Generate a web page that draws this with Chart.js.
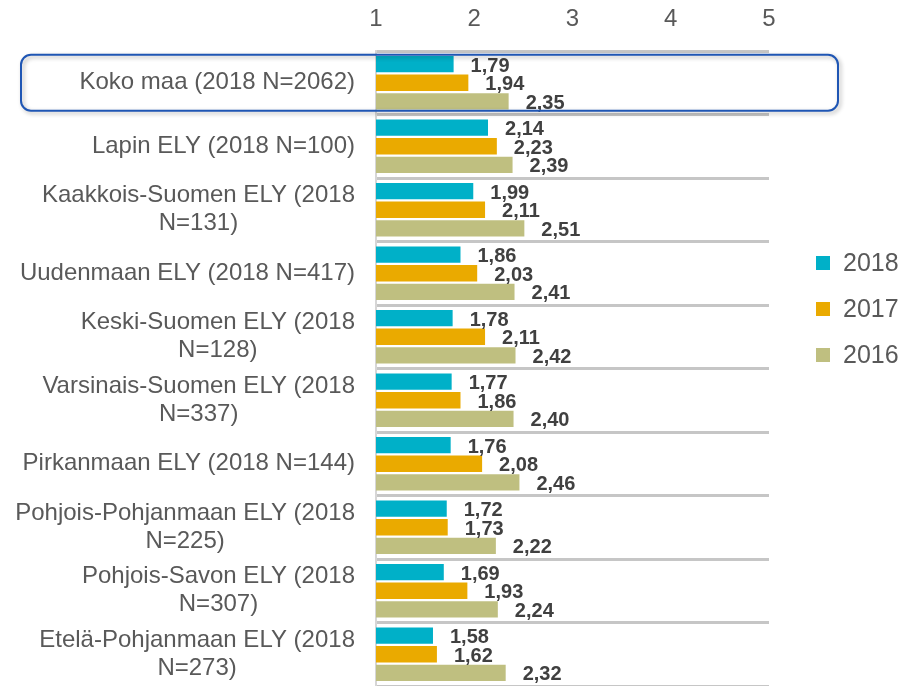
<!DOCTYPE html>
<html>
<head>
<meta charset="utf-8">
<script src="https://cdn.jsdelivr.net/npm/chart.js@4/dist/chart.umd.min.js"></script>
<style>
  html, body { margin: 0; padding: 0; background: #ffffff; }
  #wrap { width: 916px; height: 686px; position: relative; }
</style>
</head>
<body>
<div id="wrap"><canvas id="c" width="916" height="686"></canvas></div>
<script>
const categories = [
  ["Koko maa (2018 N=2062)"],
  ["Lapin ELY (2018 N=100)"],
  ["Kaakkois-Suomen ELY (2018", "N=131)"],
  ["Uudenmaan ELY (2018 N=417)"],
  ["Keski-Suomen ELY (2018", "N=128)"],
  ["Varsinais-Suomen ELY (2018", "N=337)"],
  ["Pirkanmaan ELY (2018 N=144)"],
  ["Pohjois-Pohjanmaan ELY (2018", "N=225)"],
  ["Pohjois-Savon ELY (2018", "N=307)"],
  ["Etelä-Pohjanmaan ELY (2018", "N=273)"]
];
const seriesNames = ["2018", "2017", "2016"];
const values2018 = [1.79, 2.14, 1.99, 1.86, 1.78, 1.77, 1.76, 1.72, 1.69, 1.58];
const values2017 = [1.94, 2.23, 2.11, 2.03, 2.11, 1.86, 2.08, 1.73, 1.93, 1.62];
const values2016 = [2.35, 2.39, 2.51, 2.41, 2.42, 2.40, 2.46, 2.22, 2.24, 2.32];
const xTicks = [1, 2, 3, 4, 5];

const colors = ["#00b0c8", "#eaaa00", "#bfbf80"];
const FONT = "'Liberation Sans', Arial, sans-serif";

const labelPlugin = {
  id: 'customLabels',
  afterDatasetsDraw(chart) {
    const ctx = chart.ctx;
    ctx.save();
    ctx.font = "bold 20px " + FONT;
    ctx.fillStyle = "#404040";
    ctx.textAlign = "left";
    ctx.textBaseline = "middle";
    chart.data.datasets.forEach((ds, di) => {
      const meta = chart.getDatasetMeta(di);
      meta.data.forEach((bar, i) => {
        const v = ds.data[i];
        ctx.fillText(v.toFixed(2).replace('.', ','), bar.x + 17, bar.y + 2);
      });
    });
    ctx.restore();
  },
  afterDraw(chart) {
    const ctx = chart.ctx;
    const y = chart.scales.y;
    const area = chart.chartArea;
    ctx.save();
    // category labels
    ctx.font = "24px " + FONT;
    ctx.fillStyle = "#595959";
    ctx.textAlign = "center";
    ctx.textBaseline = "middle";
    const right = area.left - 21;
    const lh = 28;
    categories.forEach((lines, i) => {
      const cy = y.getPixelForValue(i);
      let maxW = 0;
      lines.forEach(l => { maxW = Math.max(maxW, ctx.measureText(l).width); });
      const cx = right - maxW / 2;
      const y0 = cy - (lines.length - 1) * lh / 2;
      lines.forEach((l, k) => ctx.fillText(l, cx, y0 + k * lh));
    });
    // highlight box around first category
    const cy0 = y.getPixelForValue(0);
    const bx = 21, by = cy0 - 28, bw = 838 - 21, bh = 56, r = 10;
    ctx.shadowColor = "rgba(0,0,0,0.3)";
    ctx.shadowBlur = 4;
    ctx.shadowOffsetX = 2;
    ctx.shadowOffsetY = 2;
    ctx.strokeStyle = "#1f56b4";
    ctx.lineWidth = 2;
    ctx.beginPath();
    ctx.roundRect(bx, by, bw, bh, r);
    ctx.stroke();
    ctx.shadowColor = "transparent";
    // legend
    ctx.font = "25px " + FONT;
    ctx.textAlign = "left";
    const ly = [263, 309, 355];
    seriesNames.forEach((n, k) => {
      ctx.fillStyle = colors[k];
      ctx.fillRect(816, ly[k] - 7, 14, 14);
      ctx.fillStyle = "#595959";
      ctx.fillText(n, 843, ly[k] + 1);
    });
    ctx.restore();
  }
};

new Chart(document.getElementById('c'), {
  type: 'bar',
  data: {
    labels: categories.map(l => l.join(' ')),
    datasets: [
      { label: seriesNames[0], data: values2018, backgroundColor: colors[0] },
      { label: seriesNames[1], data: values2017, backgroundColor: colors[1] },
      { label: seriesNames[2], data: values2016, backgroundColor: colors[2] }
    ]
  },
  options: {
    indexAxis: 'y',
    responsive: false,
    animation: false,
    devicePixelRatio: 1,
    layout: { padding: { left: 0, right: 147, top: 0, bottom: 0 } },
    categoryPercentage: 0.88,
    barPercentage: 0.88,
    plugins: {
      legend: { display: false },
      tooltip: { enabled: false }
    },
    scales: {
      x: {
        position: 'top',
        min: 1,
        max: 5,
        afterBuildTicks(scale) { scale.ticks = xTicks.map(v => ({ value: v })); },
        afterFit(scale) { scale.height = 51; },
        grid: { display: false, drawTicks: false },
        border: { display: false },
        ticks: {
          padding: 17,
          color: '#595959',
          font: { family: FONT, size: 24 }
        }
      },
      y: {
        afterFit(scale) { scale.width = 376; },
        grid: {
          offset: true,
          color: '#c6c6c6',
          lineWidth: 3,
          drawTicks: false
        },
        border: { display: true, color: '#d6d6d6', width: 2 },
        ticks: { display: false }
      }
    }
  },
  plugins: [labelPlugin]
});
</script>
</body>
</html>
